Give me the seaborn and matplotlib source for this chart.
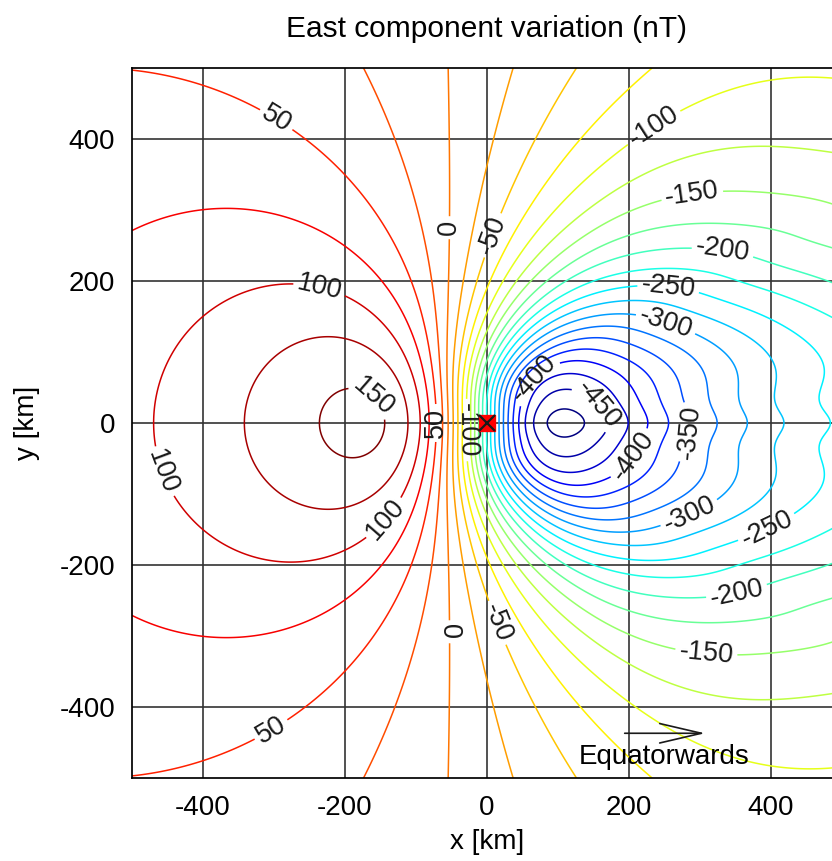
import numpy as np
import matplotlib
matplotlib.use("Agg")
import matplotlib.pyplot as plt
import seaborn as sns
from matplotlib.colors import LinearSegmentedColormap, Normalize

# contour crossings (upper half, field is symmetric in y)
read_x = [-458, -331, -218, -137, -101, -83, -73, -66, -55, -45, -38, -31, -26, -21,
          37, 49, 58, 75, 110, 145, 178, 232, 262, 296, 331, 370, 417, 472,
          -270, -216, -178, -161, -235, -139, -449, -500,
          -45, -45, -45,
          -401, -153, 39, 127, 222, 382,
          -284, 156, 72, 215, 251, 286, 255, 393, 334, 355, 286, 307, 14, 18, 230, 486]
read_y = [0, 0, 0, 0, 0, 0, 0, 0, 0, 0, 0, 0, 0, 0,
          0, 0, 0, 0, 0, 0, 0, 0, 0, 0, 0, 0, 0, 0,
          201, 122, 44, 37, 194, 139, 66, 276,
          150, 300, 480,
          500, 500, 500, 500, 500, 500,
          448, 25, 56, 52, 138, 130, 187, 146, 258, 254, 342, 345, 262, 280, 424, 430]
read_v = [100, 125, 150, 150, 125, 100, 75, 50, 25, 0, -25, -50, -75, -100,
          -400, -425, -450, -475, -482, -475, -450, -400, -375, -350, -325, -300, -275, -250,
          100, 125, 150, 150, 100, 100, 100, 75,
          0, 0, 0,
          50, 25, -25, -50, -75, -100,
          50, -450, -400, -400, -300, -300, -250, -250, -200, -200, -150, -150, -50, -50, -100, -100]

# contour label positions (x, y) per level
label_pos = {
    50: [(-284, 448), (-294, -449), (-56, 0)],
    100: [(-235, 194), (-449, -66), (-139, -139)],
    150: [(-161, 37)],
    0: [(-45, 275), (-45, -294)],
    -50: [(14, 262), (18, -280)],
    -100: [(230, 424), (-22, -10)],
    -150: [(286, 342), (307, -345)],
    -200: [(334, 258), (355, -254)],
    -250: [(255, 187), (393, -146)],
    -300: [(251, 138), (286, -130)],
    -350: [(296, -17)],
    -400: [(72, 56), (215, -52)],
    -450: [(156, 25)],
}

X0 = -15


def fac(x, y, h):
    # field-aligned current at the origin, from height h upwards
    r2 = x**2 + y**2 + 1e-6
    return -x / r2 * (1 - h / np.sqrt(r2 + h**2))


def fan(x, y, h, half):
    # horizontal currents spreading from x0 at height h (half = 0 -> single line)
    xx = x - X0
    n = 1 if half == 0 else int(np.degrees(2 * half) / 0.75) + 1
    out = 0.0
    for t in np.linspace(-half, half, n):
        s = xx * np.cos(t) + y * np.sin(t)
        d2 = np.maximum(xx**2 + y**2 + h**2 - s**2, 1e-9)
        out = out - h * np.cos(t) / d2 * (1 + s / np.sqrt(s**2 + d2))
    return out / n


SPECS = [("fac", 110, 0), ("fac", 160, 0)] + [("fan", h, np.radians(a))
                                                for h in (40, 70, 110, 200) for a in (0, 30, 60, 90)]


def basis(x, y):
    return np.array([fac(x, y, h) if k == "fac" else fan(x, y, h, a) for k, h, a in SPECS])


# fit current strengths to the read crossings (weighted by distance, not value)
rx, ry, rv = np.array(read_x, float), np.array(read_y, float), np.array(read_v, float)
B = basis(rx, ry).T
Bx = (basis(rx + 1, ry) - basis(rx - 1, ry)).T / 2
By = (basis(rx, ry + 1) - basis(rx, ry - 1)).T / 2
sc = np.abs(B).max(axis=0)
w = np.ones(len(rv))
lam = 0.05
for it in range(6):
    A_aug = np.vstack([(B / sc) * w[:, None], lam * np.eye(B.shape[1])])
    v_aug = np.concatenate([rv * w, np.zeros(B.shape[1])])
    coef, *_ = np.linalg.lstsq(A_aug, v_aug, rcond=None)
    coef = coef / sc
    g = np.hypot(Bx @ coef, By @ coef)
    w = 1 / np.maximum(g, 0.25)

xs = np.linspace(-500, 500, 401)
X, Y = np.meshgrid(xs, xs)
Z = np.tensordot(coef, basis(X, Y), axes=1)

jet = LinearSegmentedColormap("octave_jet", {
    "red": [(0, 0, 0), (0.375, 0, 0), (0.625, 1, 1), (0.875, 1, 1), (1, 0.5, 0.5)],
    "green": [(0, 0, 0), (0.125, 0, 0), (0.375, 1, 1), (0.625, 1, 1), (0.875, 0, 0), (1, 0, 0)],
    "blue": [(0, 0.5, 0.5), (0.125, 1, 1), (0.375, 1, 1), (0.625, 0, 0), (1, 0, 0)],
})
norm = Normalize(-475, 150)

sns.set_theme(style="white")
plt.rcParams["font.family"] = ["Liberation Sans", "DejaVu Sans"]
plt.rcParams["axes.unicode_minus"] = False
for key in ("text.color", "axes.labelcolor", "xtick.color", "ytick.color", "axes.edgecolor"):
    plt.rcParams[key] = "black"

fig = plt.figure(figsize=(8.32, 8.61), dpi=100)
ax = fig.add_axes([132 / 832, 83 / 861, 710 / 832, 710 / 861])

ax.set_xlim(-500, 500)
ax.set_ylim(-500, 500)
ax.set_xticks([-400, -200, 0, 200, 400])
ax.set_yticks([-400, -200, 0, 200, 400])
ax.grid(True, color="#333333", linewidth=1.2)
ax.set_axisbelow(True)

levels = np.arange(-475, 176, 25)
plain = [l for l in levels if int(l) not in label_pos]
ax.contour(X, Y, Z, levels=plain, cmap=jet, norm=norm, linewidths=1.1)
for lev, pos in label_pos.items():
    c = ax.contour(X, Y, Z, levels=[lev], cmap=jet, norm=norm, linewidths=1.1)
    ax.clabel(c, manual=pos, inline=True, inline_spacing=4, fontsize=19.5, fmt="%d", colors="k")

sns.scatterplot(x=[0], y=[0], marker="s", s=140, color="red", edgecolor="red", ax=ax, zorder=4)
ax.plot(0, 0, marker="x", color="k", markersize=12, markeredgewidth=1.6, zorder=5)

ax.annotate("", xy=(311, -437), xytext=(190, -437),
            arrowprops=dict(arrowstyle="->, head_length=1.5, head_width=0.35",
                            color="k", lw=1.2, mutation_scale=20))
ax.text(250, -470, "Equatorwards", ha="center", va="center", fontsize=20)

ax.tick_params(labelsize=20, length=0, pad=12)
ax.set_xlabel("x [km]", fontsize=20, labelpad=6)
ax.set_ylabel("y [km]", fontsize=20, labelpad=14)
ax.set_title("East component variation (nT)", fontsize=21.5, pad=22)

fig.savefig("out.png", dpi=100)
